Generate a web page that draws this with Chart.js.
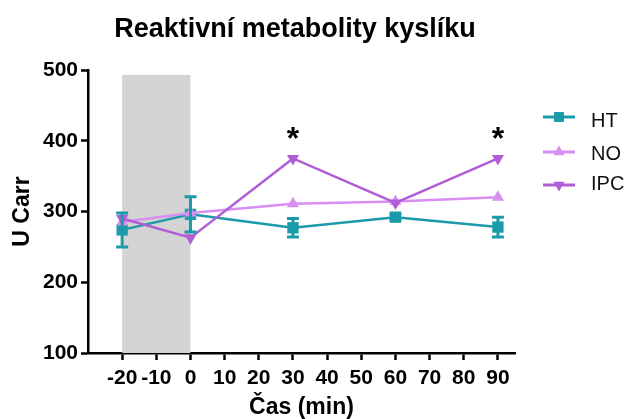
<!DOCTYPE html>
<html>
<head>
<meta charset="utf-8">
<script src="https://cdn.jsdelivr.net/npm/chart.js@4"></script>
<style>
  html, body { margin: 0; padding: 0; background: #fff; }
  #wrap { width: 633px; height: 419px; }
</style>
</head>
<body>
<div id="wrap"><canvas id="c" width="633" height="419"></canvas></div>
<script>
// Time points (min) and measured values
const times = [-20, 0, 30, 60, 90];
const htValues = [274, 296, 277, 292, 278];
const htErrors = [24, 25, 13, 4, 14];
const noValues = [285, 298, 311, 314, 320];
const ipcValues = [290, 263, 375, 312, 375];
const xTicks = [-20, -10, 0, 10, 20, 30, 40, 50, 60, 70, 80, 90];
const yTicks = [100, 200, 300, 400, 500];
const significantTimes = [30, 90];
const shadedRange = [-20, 0];

const colHT = '#1b9aa9';
const colNO = '#d88ff2';
const colIPC = '#b15dd6';
const font = '"Liberation Sans", Arial, sans-serif';

function pts(vals) { return times.map((t, i) => ({ x: t, y: vals[i] })); }

// grey band marking the pre-treatment interval
const shadePlugin = {
  id: 'shade',
  beforeDatasetsDraw(chart) {
    const { ctx, scales: { x, y }, chartArea } = chart;
    const x0 = x.getPixelForValue(shadedRange[0]);
    const x1 = x.getPixelForValue(shadedRange[1]);
    const top = y.getPixelForValue(493);
    ctx.save();
    ctx.fillStyle = '#d4d4d4';
    ctx.fillRect(x0, top, x1 - x0, chartArea.bottom - top);
    ctx.restore();
  }
};

// SEM whiskers for the HT series
const errorBarPlugin = {
  id: 'errorBars',
  afterDatasetsDraw(chart) {
    const { ctx, scales: { x, y } } = chart;
    ctx.save();
    ctx.strokeStyle = colHT;
    ctx.lineWidth = 3;
    times.forEach((t, i) => {
      const px = x.getPixelForValue(t);
      const yt = y.getPixelForValue(htValues[i] + htErrors[i]);
      const yb = y.getPixelForValue(htValues[i] - htErrors[i]);
      ctx.beginPath();
      ctx.moveTo(px, yt); ctx.lineTo(px, yb);
      ctx.moveTo(px - 6, yt); ctx.lineTo(px + 6, yt);
      ctx.moveTo(px - 6, yb); ctx.lineTo(px + 6, yb);
      ctx.stroke();
    });
    ctx.restore();
  }
};

// title, significance marks and legend
const annotPlugin = {
  id: 'annot',
  afterDraw(chart) {
    const { ctx, scales: { x, y } } = chart;
    ctx.save();
    ctx.fillStyle = '#000';
    ctx.textAlign = 'center';
    ctx.textBaseline = 'alphabetic';
    ctx.font = 'bold 27px ' + font;
    ctx.fillText('Reaktivní metabolity kyslíku', 295, 37);
    ctx.textBaseline = 'middle';
    ctx.font = 'bold 32px ' + font;
    significantTimes.forEach(t => {
      const i = times.indexOf(t);
      ctx.fillText('*', x.getPixelForValue(t), y.getPixelForValue(ipcValues[i]) - 18);
    });
    const items = [
      { label: 'HT', color: colHT, style: 'rect', rot: 0, r: 7, ly: 117, ty: 127 },
      { label: 'NO', color: colNO, style: 'triangle', rot: 0, r: 6.5, ly: 152, ty: 160 },
      { label: 'IPC', color: colIPC, style: 'triangle', rot: 180, r: 6.5, ly: 185, ty: 190 }
    ];
    ctx.font = '20px ' + font;
    ctx.textAlign = 'left';
    ctx.textBaseline = 'alphabetic';
    items.forEach(it => {
      ctx.strokeStyle = it.color;
      ctx.lineWidth = 3;
      ctx.beginPath();
      ctx.moveTo(543, it.ly); ctx.lineTo(575, it.ly);
      ctx.stroke();
      ctx.fillStyle = it.color;
      Chart.helpers.drawPoint(ctx, { pointStyle: it.style, radius: it.r, rotation: it.rot, borderWidth: 0 }, 559, it.ly);
      ctx.fillStyle = '#111';
      ctx.fillText(it.label, 591, it.ty);
    });
    ctx.restore();
  }
};

const common = { borderWidth: 2.5, pointBorderWidth: 0, tension: 0, fill: false };

new Chart(document.getElementById('c'), {
  type: 'line',
  data: {
    datasets: [
      { label: 'IPC', data: pts(ipcValues), borderColor: colIPC, backgroundColor: colIPC,
        pointStyle: 'triangle', pointRotation: 180, pointRadius: 7, ...common },
      { label: 'NO', data: pts(noValues), borderColor: colNO, backgroundColor: colNO,
        pointStyle: 'triangle', pointRadius: 7, ...common },
      { label: 'HT', data: pts(htValues), borderColor: colHT, backgroundColor: colHT,
        pointStyle: 'rect', pointRadius: 8, ...common }
    ]
  },
  options: {
    responsive: false,
    animation: false,
    layout: { padding: { top: 70, right: 118, left: 0, bottom: 0 } },
    plugins: { legend: { display: false }, tooltip: { enabled: false }, title: { display: false } },
    scales: {
      x: {
        type: 'linear', min: -30, max: 95,
        afterBuildTicks: s => { s.ticks = xTicks.map(v => ({ value: v })); },
        afterFit: s => { s.height = 66; },
        ticks: { color: '#000', font: { family: font, size: 21, weight: 'bold', lineHeight: 1.2 }, padding: 6, maxRotation: 0, autoSkip: false },
        grid: { drawOnChartArea: false, color: '#000', tickLength: 7, tickWidth: 2.5 },
        border: { color: '#000', width: 2.5 },
        title: { display: true, text: 'Čas (min)', color: '#000', font: { family: font, size: 23, weight: 'bold', lineHeight: 1 }, padding: { top: 0, bottom: 0 } }
      },
      y: {
        min: 100, max: 500,
        afterBuildTicks: s => { s.ticks = yTicks.map(v => ({ value: v })); },
        afterFit: s => { s.width = 88; },
        ticks: { color: '#000', font: { family: font, size: 21, weight: 'bold' }, padding: 3 },
        grid: { drawOnChartArea: false, color: '#000', tickLength: 7, tickWidth: 2.5 },
        border: { color: '#000', width: 2.5 },
        title: { display: true, text: 'U Carr', color: '#000', font: { family: font, size: 23, weight: 'bold', lineHeight: 1 }, padding: { top: 11, bottom: 0 } }
      }
    }
  },
  plugins: [shadePlugin, errorBarPlugin, annotPlugin]
});
</script>
</body>
</html>
